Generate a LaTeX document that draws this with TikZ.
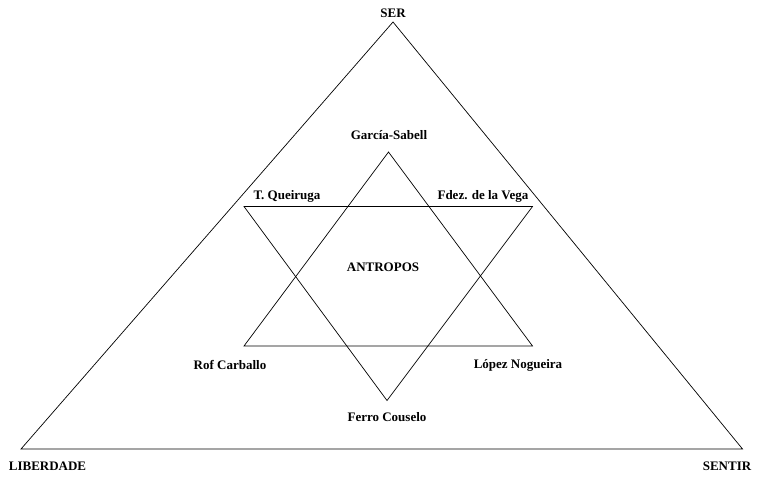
\documentclass[tikz,border=0pt]{standalone}
\usepackage{fontspec}
\setmainfont{Liberation Serif}
\begin{document}
\begin{tikzpicture}[x=1pt,y=-1pt,
  lbl/.style={font=\bfseries\fontsize{13}{15}\selectfont, inner sep=0pt},
  edge/.style={draw=black, line width=0.7pt, line join=miter}]
\useasboundingbox[fill=white] (0,0) rectangle (757,482);
% outer triangle
\coordinate (ser) at (393,22);
\coordinate (lib) at (21,449);
\coordinate (sen) at (742.5,449);
\draw[edge] (ser) -- (lib) -- (sen) -- cycle;
% star
\coordinate (ua) at (388.5,152);
\coordinate (ul) at (244,346);
\coordinate (ur) at (532.5,346);
\coordinate (dl) at (244,206.5);
\coordinate (dr) at (532.5,206.5);
\coordinate (db) at (387,400.5);
\draw[edge] (ua) -- (ul) -- (ur) -- cycle;
\draw[edge] (dl) -- (dr) -- (db) -- cycle;
% labels
\node[lbl] (tser) at (393,13) {SER};
\node[lbl] (tlib) at (47.5,466) {LIBERDADE};
\node[lbl] (tsen) at (727,466) {SENTIR};
\node[lbl] (tgs) at (389,135) {García-Sabell};
\node[lbl] (ttq) at (287,196) {T. Queiruga};
\node[lbl] (tfv) at (483,196) {Fdez. de la Vega};
\node[lbl] (tant) at (383,267) {ANTROPOS};
\node[lbl] (trc) at (230,365) {Rof Carballo};
\node[lbl] (tln) at (518,365) {López Nogueira};
\node[lbl] (tfc) at (387,417) {Ferro Couselo};
\end{tikzpicture}
\end{document}
